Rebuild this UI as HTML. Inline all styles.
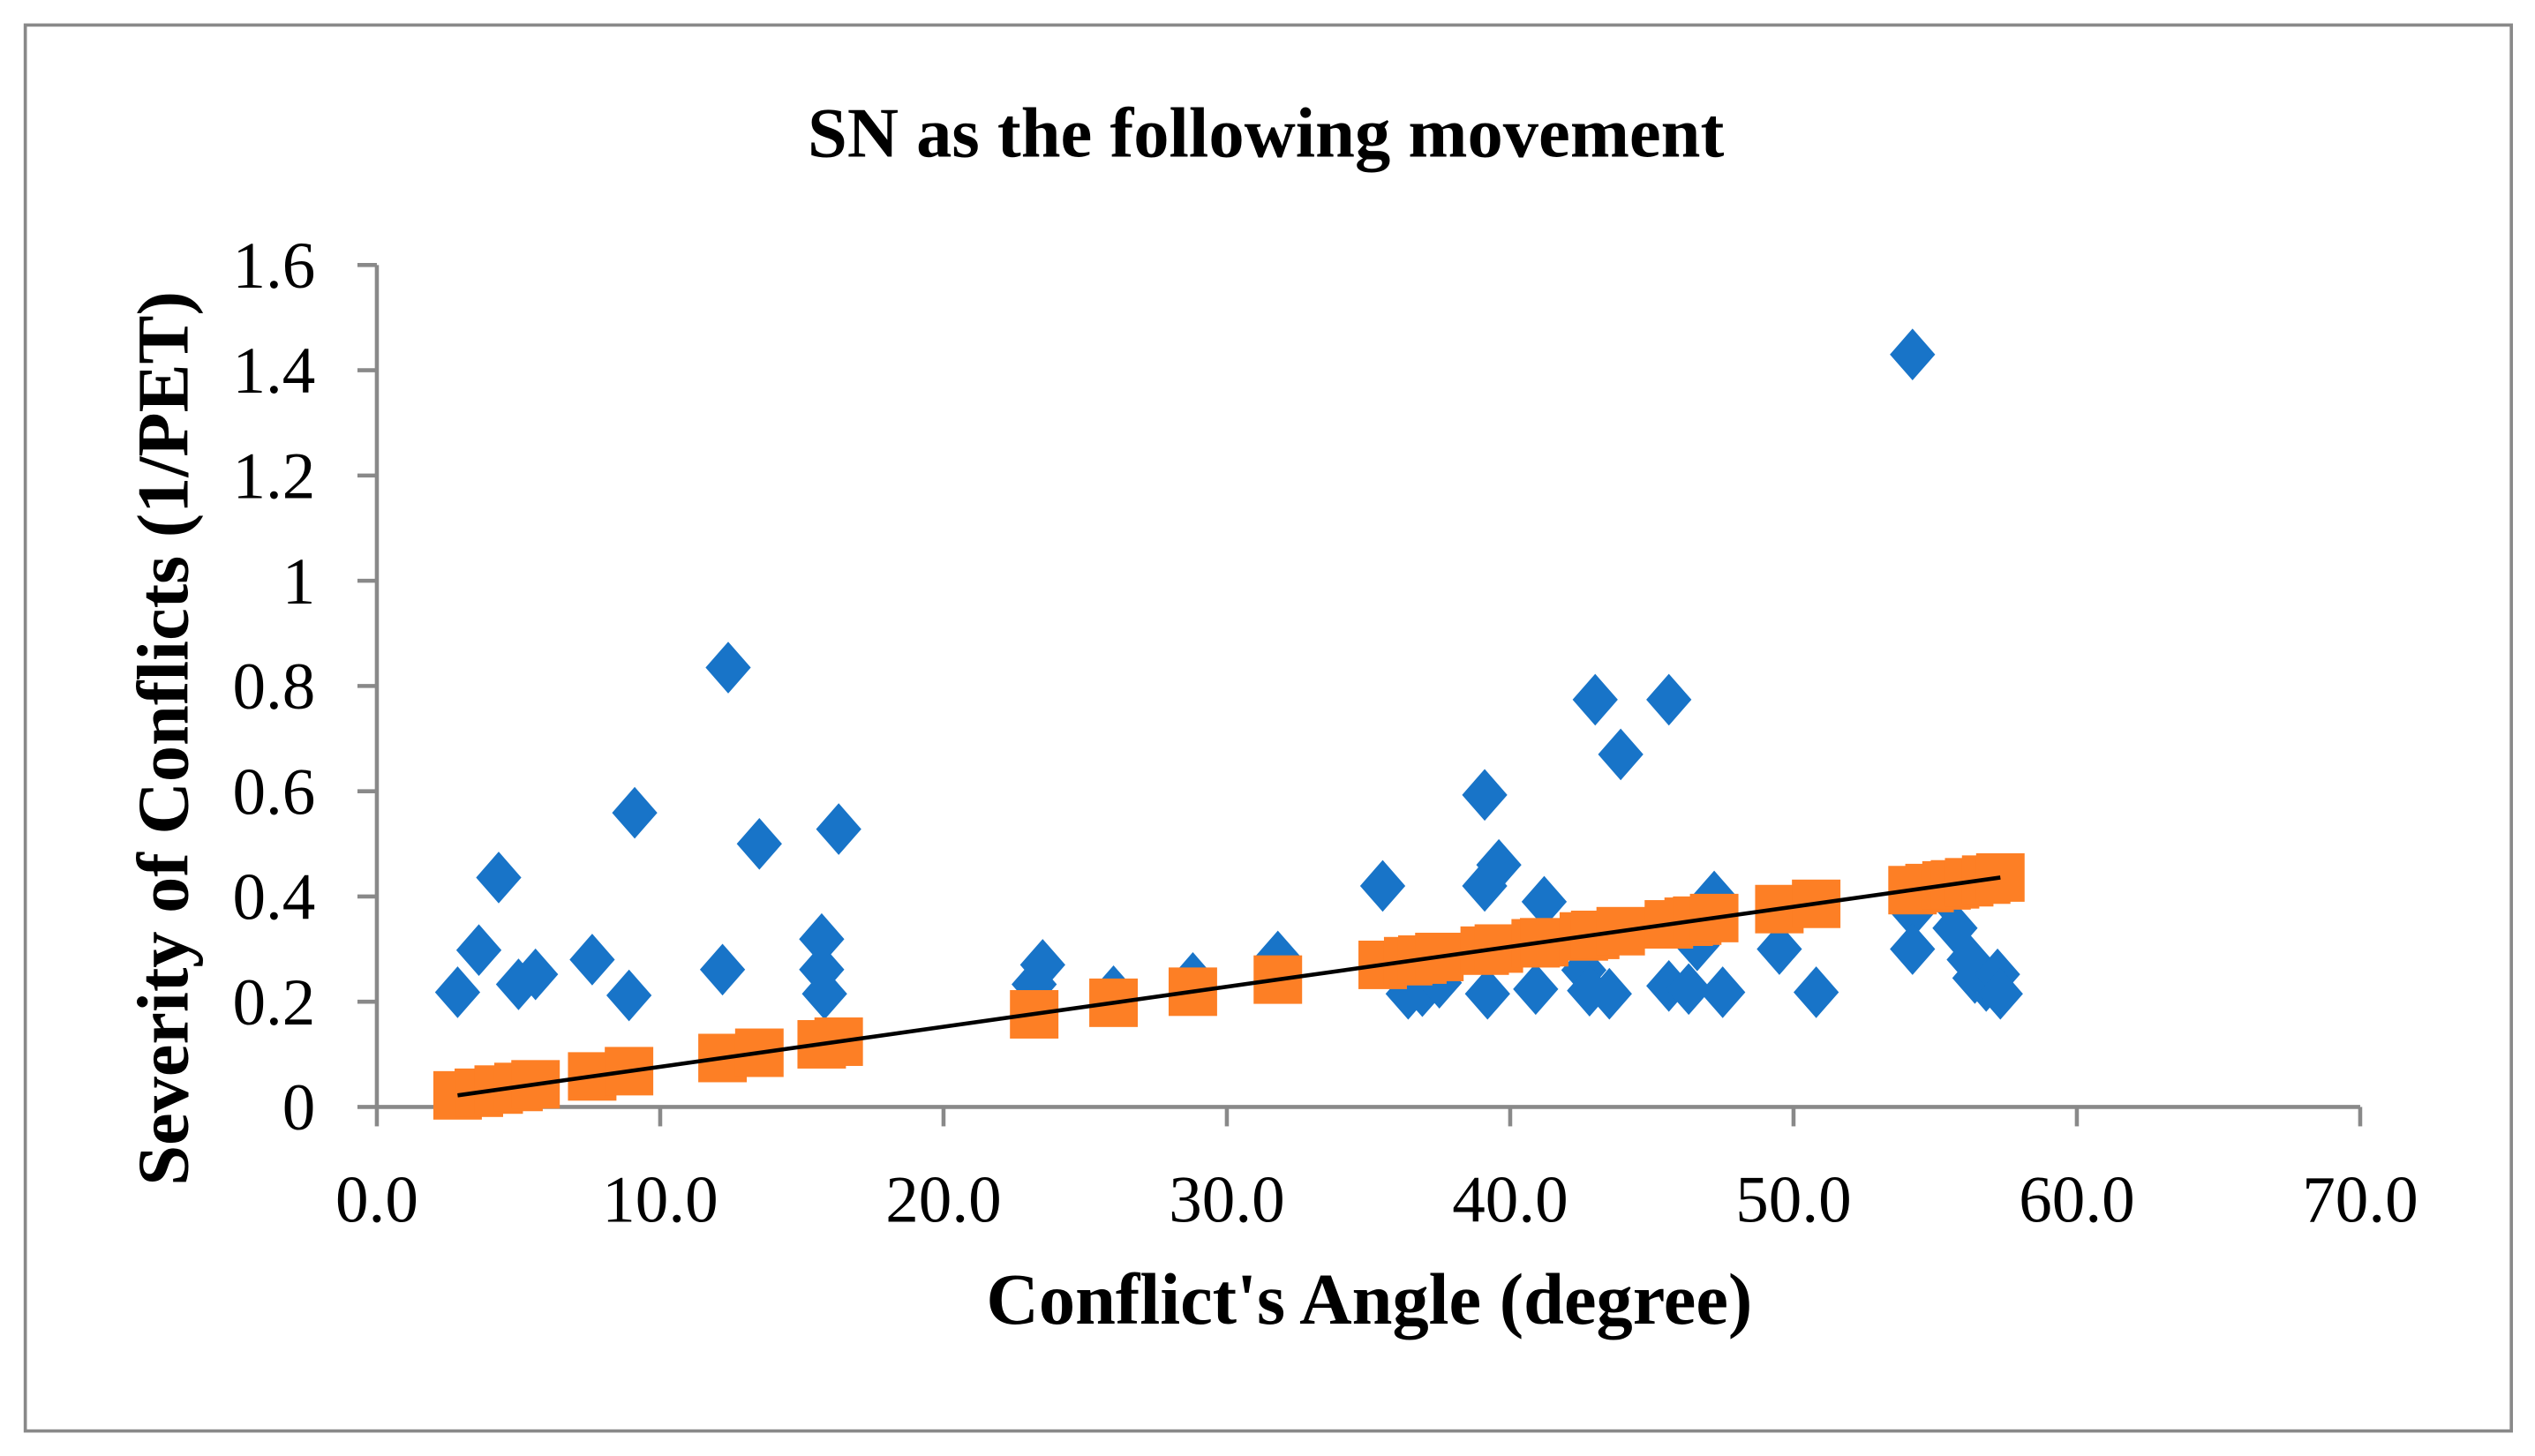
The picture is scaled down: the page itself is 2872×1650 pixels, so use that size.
<!DOCTYPE html>
<html><head><meta charset="utf-8"><style>
html,body{margin:0;padding:0;background:#fff;}
svg{display:block;}
text{font-family:"Liberation Serif",serif;fill:#000;}
</style></head><body>
<svg id="chart" width="2872" height="1650" viewBox="0 0 1568 901" xmlns="http://www.w3.org/2000/svg">
<rect x="15.5" y="15.5" width="1538" height="870" fill="#fff" stroke="#898989" stroke-width="2"/>
<text x="783" y="97" font-size="44" font-weight="bold" text-anchor="middle">SN as the following movement</text>
<text x="847" y="819" font-size="45" font-weight="bold" text-anchor="middle">Conflict's Angle (degree)</text>
<text transform="translate(116,457) rotate(-90)" font-size="45" font-weight="bold" text-anchor="middle">Severity of Conflicts (1/PET)</text>
<g id="axes"></g>
<g id="marks"></g>
</svg>
<script>
const xTicks=[0,10,20,30,40,50,60,70];
const xTickLabels=["0.0","10.0","20.0","30.0","40.0","50.0","60.0","70.0"];
const yTicks=[0,0.2,0.4,0.6,0.8,1,1.2,1.4,1.6];
const yTickLabels=["0","0.2","0.4","0.6","0.8","1","1.2","1.4","1.6"];
const seriesX=[2.85,3.6,4.3,5.0,5.6,7.6,8.9,9.1,12.2,12.4,13.5,15.7,15.7,15.8,16.3,23.2,23.5,26.0,28.8,31.8,35.5,36.4,36.9,37.5,39.1,39.1,39.2,39.6,40.9,41.2,42.6,42.8,43.0,43.5,43.9,45.6,45.6,46.3,46.6,47.2,47.5,49.5,50.8,54.2,54.2,54.2,55.4,55.7,56.2,56.4,56.8,57.2,57.3];
const seriesY=[0.218,0.298,0.436,0.233,0.252,0.28,0.212,0.559,0.261,0.835,0.50,0.319,0.261,0.215,0.528,0.233,0.27,0.22,0.245,0.286,0.42,0.215,0.22,0.236,0.593,0.42,0.215,0.46,0.224,0.39,0.26,0.221,0.774,0.215,0.67,0.23,0.774,0.224,0.307,0.40,0.218,0.30,0.218,1.43,0.37,0.30,0.40,0.34,0.28,0.245,0.23,0.252,0.215];
const predX=[2.85,3.6,4.3,5.0,5.6,7.6,8.9,12.2,13.5,15.7,16.3,23.2,26.0,28.8,31.8,35.5,36.4,36.9,37.5,39.1,39.6,40.9,41.2,42.6,43.0,43.9,45.6,46.3,46.6,47.2,49.5,50.8,54.2,54.8,55.4,55.7,56.2,56.8,57.3];
const predY=[0.022,0.027,0.033,0.038,0.043,0.058,0.068,0.093,0.103,0.119,0.124,0.176,0.198,0.219,0.242,0.27,0.277,0.28,0.285,0.297,0.301,0.311,0.313,0.324,0.327,0.334,0.347,0.352,0.354,0.359,0.376,0.386,0.412,0.416,0.421,0.423,0.427,0.432,0.436];
const trendX=[2.85,57.3];
const trendY=[0.022,0.436];

const X0=233,X1=1460,Y0=685,Y1=164;
const sx=v=>X0+(v-0)/70*(X1-X0);
const sy=v=>Y0-(v-0)/1.6*(Y0-Y1);
const NS="http://www.w3.org/2000/svg";
const axes=document.getElementById('axes');
const marks=document.getElementById('marks');
function mk(tag,attrs,parent){const e=document.createElementNS(NS,tag);for(const k in attrs)e.setAttribute(k,attrs[k]);parent.appendChild(e);return e;}

let yl=mk('line',{x1:X0,y1:Y0,x2:X0,y2:Y1,stroke:'#898989','stroke-width':2.5},axes);


let xl=mk('line',{x1:X0,y1:Y0,x2:X1,y2:Y0,stroke:'#898989','stroke-width':2.5},axes);


yTicks.forEach((v,i)=>{
  const t=mk('line',{x1:X0-12,y1:sy(v),x2:X0,y2:sy(v),stroke:'#898989','stroke-width':2.5},axes);
  
  
  const l=mk('text',{x:X0-38,y:sy(v)+14,'font-size':41,'text-anchor':'end'},axes);
  l.textContent=yTickLabels[i];
  
  
});
xTicks.forEach((v,i)=>{
  const t=mk('line',{x1:sx(v),y1:Y0,x2:sx(v),y2:Y0+12,stroke:'#898989','stroke-width':2.5},axes);
  
  
  const l=mk('text',{x:sx(v),y:Y0+71,'font-size':41,'text-anchor':'middle'},axes);
  l.textContent=xTickLabels[i];
  
  
});
seriesX.forEach((v,i)=>{
  const cx=sx(v),cy=sy(seriesY[i]);
  const p=mk('polygon',{points:`${cx},${cy-16} ${cx+14},${cy} ${cx},${cy+16} ${cx-14},${cy}`,fill:'#1874c8'},marks);
  
  
});
predX.forEach((v,i)=>{
  const cx=sx(v),cy=sy(predY[i]);
  const r=mk('rect',{x:cx-15,y:cy-15,width:30,height:30,fill:'#fd7f25'},marks);
  
  
});
const tl=mk('line',{x1:sx(trendX[0]),y1:sy(trendY[0]),x2:sx(trendX[1]),y2:sy(trendY[1]),stroke:'#000','stroke-width':2.5},marks);


</script>
</body></html>
